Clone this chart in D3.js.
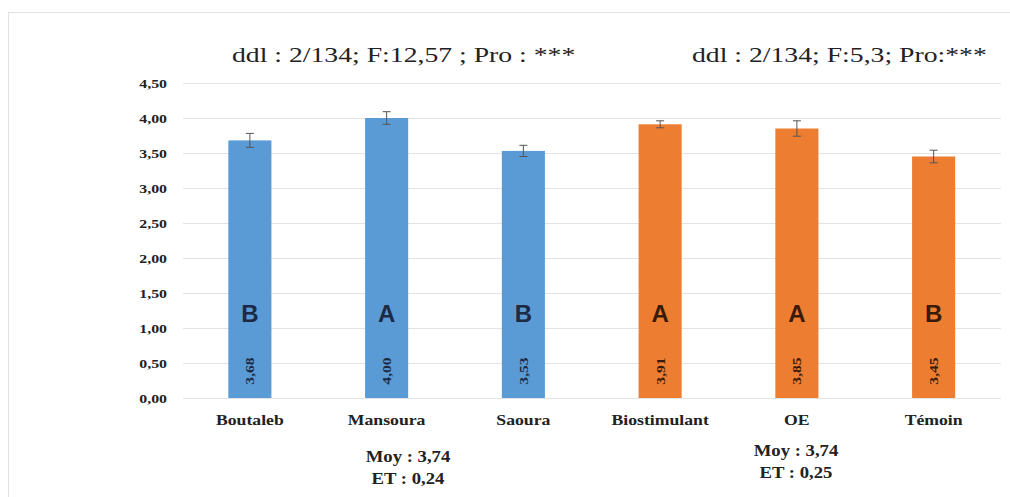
<!DOCTYPE html>
<html>
<head>
<meta charset="utf-8">
<script src="https://cdn.jsdelivr.net/npm/d3@7"></script>
<style>
  html, body { margin: 0; padding: 0; background: #fff; }
  svg { display: block; }
</style>
</head>
<body>
<svg id="chart" width="1010" height="497"></svg>
<script>
// Categories, means, standard errors and Duncan groups
const categories = ["Boutaleb", "Mansoura", "Saoura", "Biostimulant", "OE", "Témoin"];
const values = [3.68, 4.00, 3.53, 3.91, 3.85, 3.45];
const errors = [0.10, 0.09, 0.08, 0.05, 0.11, 0.09];
const groups = ["B", "A", "B", "A", "A", "B"];
const factor = ["site", "site", "site", "trt", "trt", "trt"];
const yTicks = [0, 0.5, 1, 1.5, 2, 2.5, 3, 3.5, 4, 4.5];
const anovaLabels = ["ddl : 2/134; F:12,57 ; Pro : ***", "ddl : 2/134; F:5,3; Pro:***"];
const summaryLabels = [["Moy : 3,74", "ET : 0,24"], ["Moy : 3,74", "ET : 0,25"]];

const fill = { site: "#5B9BD5", trt: "#ED7D31" };
const letterColor = { site: "#1c2a44", trt: "#3a1a08" };
const serif = "Liberation Serif, 'Times New Roman', serif";
const fmt = v => d3.format(".2f")(v).replace(".", ",");

const svg = d3.select("#chart");

// outer frame
svg.append("rect")
  .attr("x", 8.5).attr("y", 12.5).attr("width", 1010).attr("height", 497)
  .attr("fill", "none").attr("stroke", "#e2e2e2").attr("stroke-width", 1);

const x = d3.scaleBand().domain(categories).range([181.5, 1002]).paddingInner(0.685).paddingOuter(0.3425);
const y = d3.scaleLinear().domain([0, 4.5]).range([398, 83]);
const cx = c => x(c) + x.bandwidth() / 2;

// text helper: places a horizontally widened label
function label(g, px, py, txt, opts) {
  return g.append("text")
    .attr("transform", `translate(${px},${py})${opts.rotate ? " rotate(" + opts.rotate + ")" : ""} scale(${opts.sx || 1},1)`)
    .attr("text-anchor", opts.anchor || "start")
    .attr("font-family", opts.family || serif)
    .attr("font-weight", opts.weight || "normal")
    .attr("font-size", opts.size)
    .attr("fill", opts.fill || "#222")
    .text(txt);
}

// grid lines
svg.append("g").selectAll("line").data(yTicks).join("line")
  .attr("x1", 183).attr("x2", 1001)
  .attr("y1", d => Math.round(y(d)) + 0.5).attr("y2", d => Math.round(y(d)) + 0.5)
  .attr("stroke", "#e3e3e3").attr("stroke-width", 1.2);

// y axis labels
const gy = svg.append("g");
yTicks.forEach(t => {
  label(gy, 167, y(t) + 4.5, fmt(t), { anchor: "end", weight: "bold", size: 13, sx: 1.22 });
});

// bars
const data = categories.map((c, i) => ({ c, v: values[i], e: errors[i], g: groups[i], f: factor[i] }));
svg.append("g").selectAll("rect").data(data).join("rect")
  .attr("x", d => x(d.c)).attr("width", x.bandwidth())
  .attr("y", d => y(d.v)).attr("height", d => y(0) - y(d.v))
  .attr("fill", d => fill[d.f]);

// error bars
const eb = svg.append("g").attr("stroke", "#555").attr("stroke-width", 1);
data.forEach(d => {
  const c = cx(d.c);
  eb.append("line").attr("x1", c).attr("x2", c).attr("y1", y(d.v - d.e)).attr("y2", y(d.v + d.e));
  eb.append("line").attr("x1", c - 4).attr("x2", c + 4).attr("y1", y(d.v + d.e)).attr("y2", y(d.v + d.e));
  eb.append("line").attr("x1", c - 4).attr("x2", c + 4).attr("y1", y(d.v - d.e)).attr("y2", y(d.v - d.e));
});

// group letters
const gl = svg.append("g");
data.forEach(d => {
  label(gl, cx(d.c), 322, d.g, {
    anchor: "middle", family: "Liberation Sans, Arial, sans-serif", weight: "bold",
    size: 24, fill: letterColor[d.f]
  });
});

// rotated value labels
const gv = svg.append("g");
data.forEach(d => {
  label(gv, cx(d.c) + 4.5, 371, fmt(d.v), {
    anchor: "middle", weight: "bold", size: 13, sx: 1.2, rotate: -90, fill: letterColor[d.f]
  });
});

// category labels
const gc = svg.append("g");
categories.forEach(c => {
  label(gc, cx(c), 425, c, { anchor: "middle", weight: "bold", size: 15, sx: 1.18 });
});

// ANOVA headers
const gh = svg.append("g");
label(gh, 232, 62, anovaLabels[0], { size: 21, sx: 1.32 });
label(gh, 692, 62, anovaLabels[1], { size: 21, sx: 1.32 });

// mean / standard deviation summaries
const gs = svg.append("g");
[{ x: 408, y: 462, t: summaryLabels[0] }, { x: 796, y: 456, t: summaryLabels[1] }].forEach(s => {
  s.t.forEach((line, k) => {
    label(gs, s.x, s.y + k * 21.5, line, { anchor: "middle", weight: "bold", size: 17, sx: 1.1 });
  });
});
</script>
</body>
</html>
